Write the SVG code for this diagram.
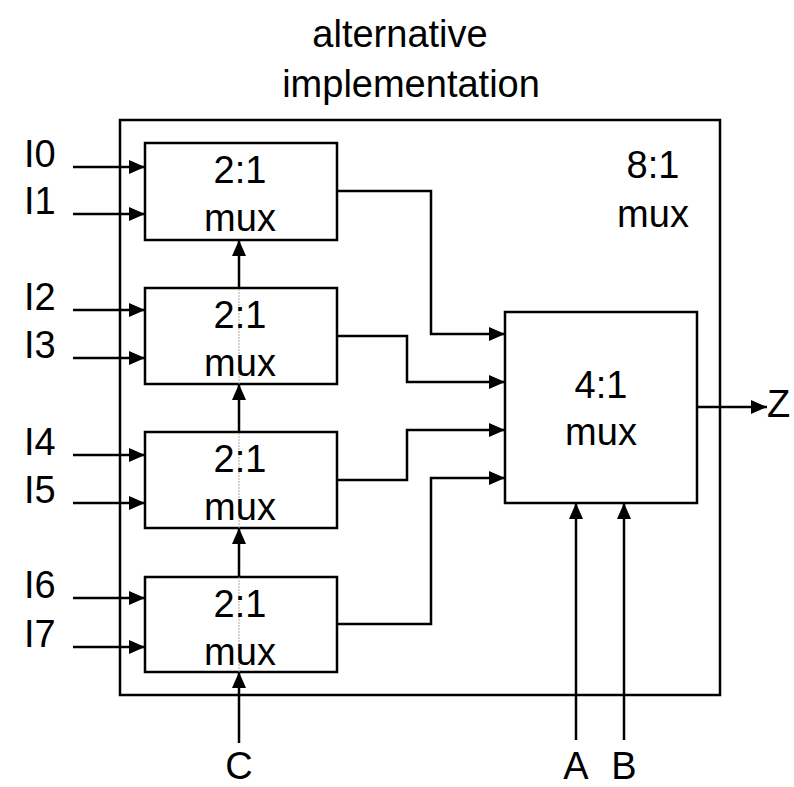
<svg xmlns="http://www.w3.org/2000/svg" width="794" height="787" viewBox="0 0 794 787">
<style>
.box{fill:#fff;stroke:#000;stroke-width:2.5}
.w{fill:none;stroke:#000;stroke-width:2.5}
.ar{marker-end:url(#ah)}
text{font-family:"Liberation Sans",Arial,sans-serif;font-size:38px;fill:#000}
.c{text-anchor:middle}
.g{fill:none;stroke:#aaa;stroke-width:1;stroke-dasharray:2 1}
</style>
<defs>
<marker id="ah" viewBox="0 0 16 14" refX="16" refY="7" markerWidth="16" markerHeight="14" markerUnits="userSpaceOnUse" orient="auto">
<path d="M0,0 L16,7 L0,14 Z" fill="#000"/>
</marker>
</defs>
<rect width="794" height="787" fill="#fff"/>
<g id="title">
<text class="c" x="400" y="47">alternative</text>
<text class="c" x="411" y="97">implementation</text>
</g>
<g id="mux8">
<rect class="box" x="120" y="120" width="600" height="575"/>
<text class="c" x="653" y="178">8:1</text>
<text class="c" x="653" y="227">mux</text>
</g>
<g id="mux2a">
<rect class="box" x="145" y="143" width="192" height="97"/>
</g>
<g id="mux2b">
<rect class="box" x="145" y="288" width="192" height="96"/>
</g>
<g id="mux2c">
<rect class="box" x="145" y="432" width="192" height="96"/>
</g>
<g id="mux2d">
<rect class="box" x="145" y="577" width="192" height="95"/>
</g>
<g id="mux4">
<rect class="box" x="505" y="312" width="192" height="191"/>
<text class="c" x="601" y="398">4:1</text>
<text class="c" x="601" y="445">mux</text>
</g>
<g id="connectors">
<path class="g" d="M239,672 V240"/>
<path class="w ar" d="M73,167 H145"/>
<path class="w ar" d="M73,214 H145"/>
<path class="w ar" d="M73,310 H145"/>
<path class="w ar" d="M73,358 H145"/>
<path class="w ar" d="M73,455 H145"/>
<path class="w ar" d="M73,503 H145"/>
<path class="w ar" d="M73,598 H145"/>
<path class="w ar" d="M73,647 H145"/>
<path class="w ar" d="M239,743 V672"/>
<path class="w ar" d="M239,577 V528"/>
<path class="w ar" d="M239,432 V384"/>
<path class="w ar" d="M239,288 V240"/>
<path class="w ar" d="M337,191 H431 V334 H505"/>
<path class="w ar" d="M337,336 H407 V382 H505"/>
<path class="w ar" d="M337,480 H407 V430 H505"/>
<path class="w ar" d="M337,624 H431 V478 H505"/>
<path class="w ar" d="M697,407 H767"/>
<path class="w ar" d="M576,740 V503"/>
<path class="w ar" d="M624,740 V503"/>
</g>
<g id="labels">
<text x="24" y="167">I0</text>
<text x="24" y="214">I1</text>
<text x="24" y="310">I2</text>
<text x="24" y="358">I3</text>
<text x="24" y="455">I4</text>
<text x="24" y="503">I5</text>
<text x="24" y="598">I6</text>
<text x="24" y="647">I7</text>
<text x="767" y="417">Z</text>
<text class="c" x="239" y="779">C</text>
<text class="c" x="576" y="779">A</text>
<text class="c" x="624" y="779">B</text>
<text class="c" x="240" y="183">2:1</text>
<text class="c" x="240" y="231">mux</text>
<text class="c" x="240" y="328">2:1</text>
<text class="c" x="240" y="376">mux</text>
<text class="c" x="240" y="472">2:1</text>
<text class="c" x="240" y="520">mux</text>
<text class="c" x="240" y="617">2:1</text>
<text class="c" x="240" y="665">mux</text>
</g>
</svg>
